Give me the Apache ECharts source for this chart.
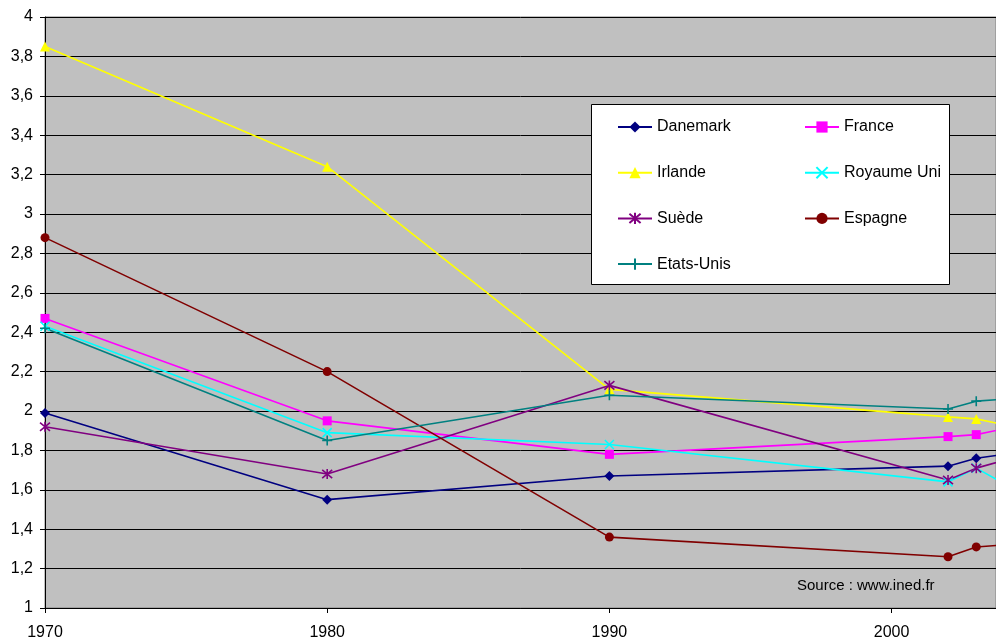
<!DOCTYPE html>
<html><head><meta charset="utf-8">
<script src="https://cdn.jsdelivr.net/npm/echarts@6/dist/echarts.min.js"></script>
<style>html,body{margin:0;padding:0;background:#fff}#c{width:996px;height:638px}</style>
</head><body><div id="c"></div>
<script>
const years = [1970, 1980, 1990, 2002, 2003, 2004];
const danemark   = [1.99, 1.55, 1.67, 1.72, 1.76, 1.78];
const france     = [2.47, 1.95, 1.78, 1.87, 1.88, 1.91];
const irlande    = [3.85, 3.24, 2.11, 1.97, 1.96, 1.93];
const royaumeUni = [2.43, 1.89, 1.83, 1.64, 1.71, 1.63];
const suede      = [1.92, 1.68, 2.13, 1.65, 1.71, 1.75];
const espagne    = [2.88, 2.20, 1.36, 1.26, 1.31, 1.32];
const etatsUnis  = [2.42, 1.85, 2.08, 2.01, 2.05, 2.06];
const sourceText = 'Source : www.ined.fr';

const FONT = 'Liberation Sans, Arial, sans-serif';
const X_PATH = 'path://M0,0L10,10M10,0L0,10';
const STAR_PATH = 'path://M0,0L10,10M10,0L0,10M5,-1L5,11';
const PLUS_PATH = 'path://M5,0L5,10M0,5L10,5';

function mk(name, vals, color, symbol, size, stroked) {
  return {
    name, type: 'line',
    data: years.map((y, i) => [y, vals[i]]),
    symbol, symbolSize: size,
    showAllSymbol: true,
    lineStyle: { color, width: 1.6 },
    itemStyle: stroked ? { color, borderColor: color, borderWidth: 1.6 } : { color, borderWidth: 0 },
    emphasis: { disabled: true },
    animation: false
  };
}

const series = [
  mk('Danemark', danemark, '#000080', 'diamond', 10, false),
  mk('France', france, '#FF00FF', 'rect', 9, false),
  mk('Irlande', irlande, '#FFFF00', 'triangle', 10, false),
  mk('Royaume Uni', royaumeUni, '#00FFFF', X_PATH, 9, true),
  mk('Suède', suede, '#800080', STAR_PATH, 10, true),
  mk('Espagne', espagne, '#800000', 'circle', 9, false),
  mk('Etats-Unis', etatsUnis, '#008080', PLUS_PATH, 10, true)
];

const legendCommon = {
  orient: 'vertical', itemWidth: 34, itemHeight: 14, itemGap: 29.7,
  textStyle: { fontFamily: FONT, fontSize: 16, color: '#000' },
  selectedMode: false, z: 10, padding: 0
};

const chart = echarts.init(document.getElementById('c'), null, { renderer: 'canvas' });
chart.setOption({
  animation: false,
  backgroundColor: '#fff',
  grid: { left: 45, top: 17, right: 0, bottom: 30, outerBoundsMode: 'none', containLabel: false,
    show: true, backgroundColor: '#C0C0C0', borderColor: '#808080', borderWidth: 1 },
  xAxis: {
    type: 'value', min: 1970, max: 2003.7, interval: 10,
    axisLine: { show: true, lineStyle: { color: '#000', width: 1 } },
    axisTick: { show: true, length: 5, lineStyle: { color: '#000' } },
    axisLabel: { fontFamily: FONT, fontSize: 16, color: '#000', margin: 17, showMaxLabel: false,
      formatter: v => (v % 10 === 0 ? String(v) : '') },
    splitLine: { show: false }
  },
  yAxis: {
    type: 'value', min: 1, max: 4, interval: 0.2,
    axisLine: { show: true, lineStyle: { color: '#000', width: 1 } },
    axisTick: { show: true, length: 5, lineStyle: { color: '#000' } },
    axisLabel: { fontFamily: FONT, fontSize: 16, color: '#000', margin: 12,
      formatter: v => String(Math.round(v * 10) / 10).replace('.', ',') },
    splitLine: { show: true, lineStyle: { color: '#000', width: 1 } }
  },
  legend: [
    Object.assign({ left: 617, top: 119, data: ['Danemark', 'Irlande', 'Suède', 'Etats-Unis'] }, legendCommon),
    Object.assign({ left: 804, top: 119, data: ['France', 'Royaume Uni', 'Espagne'] }, legendCommon)
  ],
  graphic: [
    { type: 'rect', z: 3, shape: { x: 591.5, y: 104.5, width: 358, height: 180 },
      style: { fill: '#fff', stroke: '#000', lineWidth: 1 } },
    { type: 'text', z: 5, left: 797, top: 578,
      style: { text: sourceText, font: '15px ' + FONT, fill: '#000' } }
  ],
  series
});
</script>
</body></html>
